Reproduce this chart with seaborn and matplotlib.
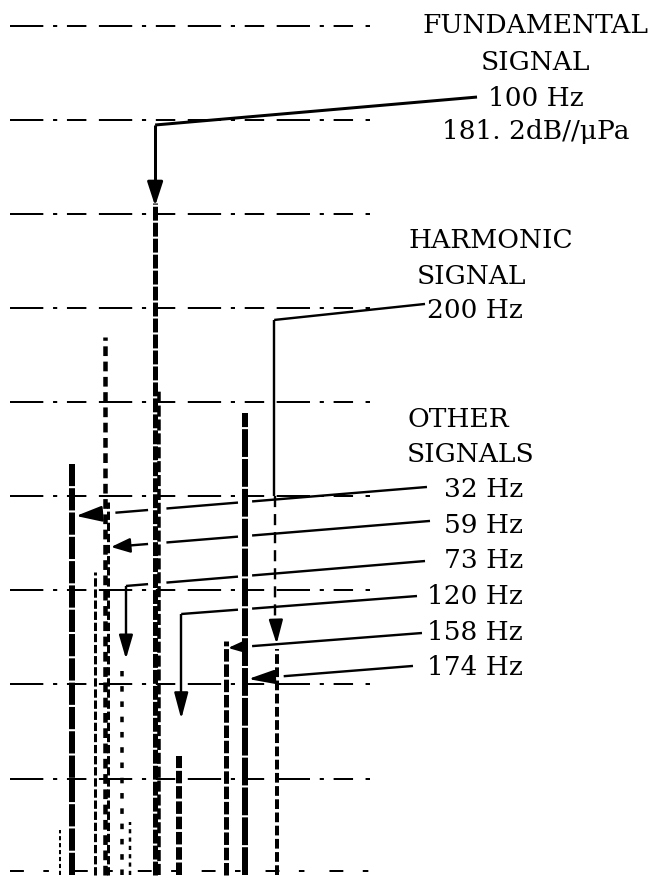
import numpy as np
import pandas as pd
import matplotlib
matplotlib.use("Agg")
import matplotlib.pyplot as plt
import seaborn as sns

# Narrow-band spectrum: line frequency (Hz) and peak level (dB re 1 uPa)
freq_hz = [22, 32, 50.5, 59, 61.5, 73, 79.5, 100, 103.5, 120, 158, 174, 200]
level_db = [114.5, 153.4, 142.0, 166.9, 149.4, 131.4, 115.4, 181.2, 161.4, 122.4, 134.6, 158.8, 133.8]

fundamental_hz = 100
fundamental_db = 181.2
harmonic_hz = 200
other_hz = [32, 59, 73, 120, 158, 174]

grid_db = [120, 130, 140, 150, 160, 170, 180, 190, 200]
floor_db = 109.8

# stroke appearance of each spectral line (width in px, dash pattern in pt)
line_px = [2, 6, 3, 4.5, 3, 3.5, 2.5, 5, 3.5, 6, 5, 6, 4]
line_dash = [(3, 2), (16, 1.5), (6, 2), (7, 4), (6, 2), (4, 7), (3, 3),
             (10, 1.5), (8, 2), (9, 2), (9, 2), (20, 1.5), (7, 2.5)]

sns.set_theme(style="white")
plt.rcParams["font.family"] = ["DejaVu Serif"]
plt.rcParams["lines.scale_dashes"] = False
plt.rcParams["text.color"] = "black"

PX = 0.72  # points per pixel at 100 dpi
fig = plt.figure(figsize=(6.68, 8.78), dpi=100)
ax = fig.add_axes([0, 0, 1, 1])
ax.set_xlim(-27.65, 522.05)
ax.set_ylim(109.54, 202.85)
ax.set_axis_off()

# graticule
ax.hlines(grid_db, -19.4, 276.8, colors="black", lw=2 * PX,
          linestyles=[(0, (24, 7, 3, 7, 14, 9))], zorder=1)
ax.hlines([floor_db + 0.4], -19.4, 276.8, colors="black", lw=2 * PX,
          linestyles=[(0, (10, 14, 4, 18))], zorder=1)

# spectral lines
for f, lv, w, d in zip(freq_hz, level_db, line_px, line_dash):
    seg = pd.DataFrame({"freq": [f, f], "level": [floor_db, lv]})
    sns.lineplot(data=seg, x="freq", y="level", estimator=None, sort=False,
                 color="black", lw=w * PX, linestyle=(0, d), ax=ax, zorder=3)
ax.set_xlabel("")
ax.set_ylabel("")

GAP_HZ = 5.8
LW = 2.4 * PX


def broken_segment(x0, y0, x1, y1, lw=LW, ls="-"):
    """Draw a leader segment, leaving a gap where it passes a spectral line."""
    if x0 == x1:
        ax.plot([x0, x1], [y0, y1], color="black", lw=lw, ls=ls,
                solid_capstyle="butt", zorder=4)
        return
    yat = lambda x: y0 + (y1 - y0) * (x - x0) / (x1 - x0)
    cuts = []
    for f, lv in zip(freq_hz, level_db):
        if min(x0, x1) < f < max(x0, x1) and lv > yat(f):
            cuts.append((f - GAP_HZ, f + GAP_HZ))
    lo, hi = sorted([x0, x1])
    start = lo
    pieces = []
    for a, b in sorted(cuts):
        if a > start:
            pieces.append((start, a))
        start = max(start, b)
    if start < hi:
        pieces.append((start, hi))
    for a, b in pieces:
        ax.plot([a, b], [yat(a), yat(b)], color="black", lw=lw, ls=ls,
                solid_capstyle="butt", zorder=4)


def leader(points, head_px=20, head_w=0.45, lw=LW):
    """Polyline from a label to a spectral line, ending in a filled arrow head."""
    T = ax.transData
    prev, tip = np.array(points[-2], float), np.array(points[-1], float)
    p, t = T.transform(prev), T.transform(tip)
    u = (p - t) / np.hypot(*(p - t))
    base = T.inverted().transform(t + u * head_px)
    pts = list(points[:-1]) + [tuple(base)]
    for (x0, y0), (x1, y1) in zip(pts[:-1], pts[1:]):
        broken_segment(x0, y0, x1, y1, lw=lw)
    hl = head_px * PX / 10
    ax.annotate("", xy=tip, xytext=base,
                arrowprops=dict(arrowstyle=f"-|>,head_length={hl:.2f},head_width={head_w}",
                                color="black", lw=lw, shrinkA=0, shrinkB=0,
                                mutation_scale=10),
                zorder=5)


# fundamental
leader([(364.9, 192.43), (fundamental_hz, 189.46), (fundamental_hz, fundamental_db - 0.35)],
       head_px=20, head_w=0.47, lw=3 * PX)

# harmonic: solid drop, then dashed run down to the line
h_top = level_db[freq_hz.index(harmonic_hz)]
broken_segment(322.1, 170.44, 198.0, 168.74)
broken_segment(198.0, 168.74, 198.0, 150.0)
ax.plot([198.6, 198.6], [150.0, h_top + 2.6], color="black", lw=LW,
        ls=(0, (8, 5)), zorder=4)
leader([(199.5, h_top + 2.6), (harmonic_hz, h_top + 0.5)], head_px=20, head_w=0.42)

# other signals
leader([(323.7, 150.99), (34.9, 147.91)], head_px=22, head_w=0.48)
leader([(326.2, 147.38), (63.7, 144.61)], head_px=16, head_w=0.44)
leader([(322.1, 143.12), (76.0, 140.47), (76.0, 132.71)], head_px=20, head_w=0.42)
leader([(315.5, 139.40), (121.5, 137.49), (121.5, 126.33)], head_px=22, head_w=0.42)
leader([(319.6, 135.47), (160.0, 133.88)], head_px=15, head_w=0.40)
leader([(312.2, 131.97), (176.6, 130.58)], head_px=22, head_w=0.42)

# annotation text
TS = 19
ax.text(413.4, 199.34, "FUNDAMENTAL", ha="center", va="baseline", fontsize=TS)
ax.text(413.4, 195.41, "SIGNAL", ha="center", va="baseline", fontsize=TS)
ax.text(413.4, 191.58, f"{fundamental_hz} Hz", ha="center", va="baseline", fontsize=TS)
level_txt = f"{fundamental_db:.1f}".replace(".", ". ") + "dB//\u03bcPa"
ax.text(413.4, 188.08, level_txt, ha="center", va="baseline", fontsize=TS)

ax.text(308.1, 176.49, "HARMONIC", ha="left", va="baseline", fontsize=TS)
ax.text(315.5, 172.67, "SIGNAL", ha="left", va="baseline", fontsize=TS)
ax.text(323.7, 169.05, f"{harmonic_hz} Hz", ha="left", va="baseline", fontsize=TS)

ax.text(307.3, 157.5, "OTHER", ha="left", va="baseline", fontsize=TS)
ax.text(307.3, 153.78, "SIGNALS", ha="left", va="baseline", fontsize=TS)
for i, f in enumerate(other_hz):
    ax.text(402.8, 150.0 - 3.78 * i, f"{f} Hz", ha="right", va="baseline", fontsize=TS)

fig.savefig("out.png", dpi=100, facecolor="white")
